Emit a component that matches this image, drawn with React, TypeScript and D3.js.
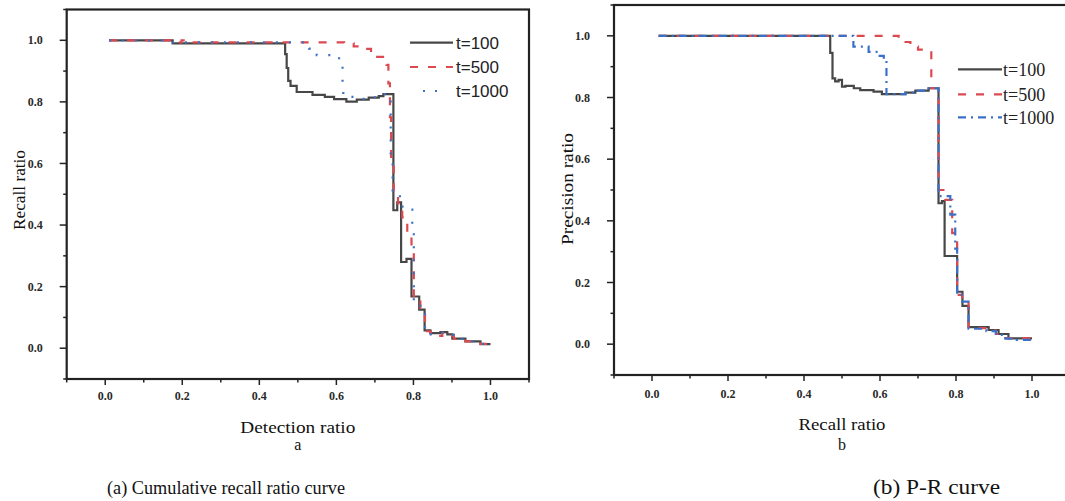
import React from "react";
import * as d3 from "d3";

// ---------- data ----------
const majorTicks = [0, 0.2, 0.4, 0.6, 0.8, 1.0];
const majorTickLabels = ["0.0", "0.2", "0.4", "0.6", "0.8", "1.0"];
const minorTicks = [-0.1, 0.1, 0.3, 0.5, 0.7, 0.9, 1.1];
const seriesNames = ["t=100", "t=500", "t=1000"];

// Panel (a): detection ratio (x) vs recall ratio (y), step curves
const recallT100: [number, number][] = [
  [0.01, 1.0], [0.175, 0.99], [0.467, 0.955], [0.471, 0.91], [0.475, 0.868], [0.481, 0.852],
  [0.497, 0.832], [0.538, 0.823], [0.57, 0.816], [0.594, 0.809], [0.626, 0.801], [0.653, 0.807],
  [0.684, 0.814], [0.71, 0.819], [0.722, 0.825], [0.748, 0.448], [0.758, 0.474], [0.768, 0.28],
  [0.782, 0.29], [0.795, 0.168], [0.815, 0.125], [0.829, 0.058], [0.844, 0.049], [0.87, 0.052],
  [0.888, 0.045], [0.901, 0.031], [0.935, 0.022], [0.974, 0.013], [1.0, 0.013],
];
const recallT500: [number, number][] = [
  [0.01, 1.0], [0.175, 0.993], [0.198, 1.0], [0.215, 0.993], [0.62, 0.99], [0.645, 0.98],
  [0.66, 0.972], [0.69, 0.955], [0.706, 0.946], [0.73, 0.92], [0.735, 0.86], [0.739, 0.75],
  [0.742, 0.6], [0.749, 0.5], [0.76, 0.47], [0.771, 0.425], [0.784, 0.375], [0.795, 0.33],
  [0.801, 0.151], [0.818, 0.13], [0.83, 0.055], [0.845, 0.045], [0.862, 0.04], [0.875, 0.05],
  [0.89, 0.04], [0.905, 0.03], [0.935, 0.022], [0.974, 0.014], [1.0, 0.012],
];
const recallT1000: [number, number][] = [
  [0.01, 1.0], [0.175, 0.993], [0.52, 0.99], [0.529, 0.973], [0.549, 0.952], [0.607, 0.928],
  [0.616, 0.863], [0.618, 0.823], [0.632, 0.816], [0.66, 0.81], [0.69, 0.815], [0.715, 0.82],
  [0.725, 0.825], [0.741, 0.6], [0.746, 0.5], [0.765, 0.46], [0.784, 0.45], [0.797, 0.4],
  [0.801, 0.15], [0.818, 0.13], [0.83, 0.058], [0.845, 0.045], [0.87, 0.05], [0.89, 0.043],
  [0.905, 0.03], [0.935, 0.022], [0.974, 0.014], [1.0, 0.012],
];

// Panel (b): recall ratio (x) vs precision ratio (y), step curves
const precisionT100: [number, number][] = [
  [0.0175, 1.0], [0.469, 0.945], [0.475, 0.862], [0.482, 0.852], [0.491, 0.857], [0.5, 0.835],
  [0.509, 0.838], [0.531, 0.83], [0.548, 0.824], [0.583, 0.819], [0.605, 0.811], [0.667, 0.816],
  [0.693, 0.822], [0.728, 0.83], [0.754, 0.457], [0.763, 0.464], [0.77, 0.286], [0.803, 0.17],
  [0.817, 0.124], [0.833, 0.055], [0.886, 0.046], [0.912, 0.033], [0.938, 0.019], [1.0, 0.019],
];
const precisionT500: [number, number][] = [
  [0.0175, 1.0], [0.649, 0.99], [0.66, 0.98], [0.68, 0.965], [0.7, 0.955], [0.735, 0.83],
  [0.754, 0.5], [0.772, 0.468], [0.79, 0.36], [0.803, 0.16], [0.816, 0.14], [0.833, 0.052],
  [0.886, 0.044], [0.905, 0.033], [0.93, 0.02], [1.0, 0.02],
];
const precisionT1000: [number, number][] = [
  [0.0175, 1.0], [0.53, 0.965], [0.57, 0.948], [0.595, 0.935], [0.61, 0.921], [0.617, 0.811],
  [0.667, 0.816], [0.693, 0.822], [0.728, 0.83], [0.754, 0.48], [0.785, 0.42], [0.798, 0.31],
  [0.803, 0.16], [0.816, 0.138], [0.833, 0.05], [0.88, 0.042], [0.905, 0.03], [0.93, 0.018],
  [0.96, 0.014], [1.0, 0.014],
];

// ---------- styles ----------
const COLORS = ["#474747", "#db4a50", "#3b70c8"];
const LINE_WIDTHS = [2.2, 2.2, 2.2];
const AXIS_COLOR = "#222";

type PanelProps = {
  x0: number; x1: number; yTop: number; yBottom: number;
  series: [number, number][][];
  dashes: (string | undefined)[];
  xTitle: string; xTitleLen: number; xTitleY: number;
  yTitle: string; yTitleLen: number; yTitleX: number; yTitleY: number;
  letter: string; letterY: number;
  legendX0: number; legendX1: number; legendTextX: number; legendYs: number[];
  legendFont: string; legendSize: number; legendDashes: (string | undefined)[];
  tickLabelY: number;
};

function Panel(p: PanelProps) {
  const x = d3.scaleLinear().domain([-0.1, 1.1]).range([p.x0, p.x1]);
  const y = d3.scaleLinear().domain([-0.1, 1.1]).range([p.yBottom, p.yTop]);
  const line = d3
    .line<[number, number]>()
    .x((d) => x(d[0]))
    .y((d) => y(d[1]))
    .curve(d3.curveStepAfter);
  const cx = (p.x0 + p.x1) / 2;
  return (
    <g>
      {p.series.map((s, i) => (
        <path
          key={i}
          d={line(s) || ""}
          fill="none"
          stroke={COLORS[i]}
          strokeWidth={LINE_WIDTHS[i]}
          strokeDasharray={p.dashes[i]}
        />
      ))}
      <rect
        x={p.x0}
        y={p.yTop}
        width={p.x1 - p.x0}
        height={p.yBottom - p.yTop}
        fill="none"
        stroke={AXIS_COLOR}
        strokeWidth={2.2}
      />
      {majorTicks.map((t, i) => (
        <g key={"xm" + i}>
          <line x1={x(t)} x2={x(t)} y1={p.yBottom} y2={p.yBottom + 6} stroke={AXIS_COLOR} strokeWidth={1.5} />
          <text
            x={x(t)}
            y={p.tickLabelY}
            textAnchor="middle"
            fontFamily="Liberation Serif"
            fontWeight="bold"
            fontSize={12}
            fill="#2a2a2a"
          >
            {majorTickLabels[i]}
          </text>
        </g>
      ))}
      {minorTicks.map((t, i) => (
        <line key={"xn" + i} x1={x(t)} x2={x(t)} y1={p.yBottom} y2={p.yBottom + 3.5} stroke={AXIS_COLOR} strokeWidth={1.5} />
      ))}
      {majorTicks.map((t, i) => (
        <g key={"ym" + i}>
          <line x1={p.x0 - 7} x2={p.x0} y1={y(t)} y2={y(t)} stroke={AXIS_COLOR} strokeWidth={1.5} />
          <text
            x={p.x0 - 24}
            y={y(t)}
            dy="0.35em"
            textAnchor="end"
            fontFamily="Liberation Serif"
            fontWeight="bold"
            fontSize={12}
            fill="#2a2a2a"
          >
            {majorTickLabels[i]}
          </text>
        </g>
      ))}
      {minorTicks.map((t, i) => (
        <line key={"yn" + i} x1={p.x0 - 3.5} x2={p.x0} y1={y(t)} y2={y(t)} stroke={AXIS_COLOR} strokeWidth={1.5} />
      ))}
      <text
        x={cx}
        y={p.xTitleY}
        textAnchor="middle"
        fontFamily="Liberation Serif"
        fontSize={17}
        fill="#111"
        textLength={p.xTitleLen}
        lengthAdjust="spacingAndGlyphs"
      >
        {p.xTitle}
      </text>
      <text x={cx} y={p.letterY} textAnchor="middle" fontFamily="Liberation Serif" fontSize={16} fill="#111">
        {p.letter}
      </text>
      <text
        transform={`translate(${p.yTitleX},${p.yTitleY}) rotate(-90)`}
        textAnchor="middle"
        fontFamily="Liberation Serif"
        fontSize={17}
        fill="#111"
        textLength={p.yTitleLen}
        lengthAdjust="spacingAndGlyphs"
      >
        {p.yTitle}
      </text>
      {seriesNames.map((n, i) => (
        <g key={"lg" + i}>
          <line
            x1={p.legendX0}
            x2={p.legendX1}
            y1={p.legendYs[i]}
            y2={p.legendYs[i]}
            stroke={COLORS[i]}
            strokeWidth={2.2}
            strokeDasharray={p.legendDashes[i]}
          />
          <text
            x={p.legendTextX}
            y={p.legendYs[i]}
            dy="0.36em"
            fontFamily={p.legendFont}
            fontSize={p.legendSize}
            fill="#222"
          >
            {n}
          </text>
        </g>
      ))}
    </g>
  );
}

export default function App() {
  return (
    <svg
      width={1065}
      height={501}
      style={{ position: "absolute", left: 0, top: 0, background: "#fff" }}
    >
      <rect x={0} y={0} width={1065} height={501} fill="#fff" />
      <Panel
        x0={66.7}
        x1={529}
        yTop={9.5}
        yBottom={379}
        series={[recallT100, recallT500, recallT1000]}
        dashes={[undefined, "8,10", "2,11"]}
        xTitle="Detection ratio"
        xTitleLen={115}
        xTitleY={433}
        yTitle="Recall ratio"
        yTitleLen={80}
        yTitleX={25}
        yTitleY={190}
        letter="a"
        letterY={450}
        legendX0={410}
        legendX1={453}
        legendTextX={456}
        legendYs={[42.7, 67, 91]}
        legendFont="Liberation Sans"
        legendSize={17}
        legendDashes={[undefined, "8,10", "0,13,2,10,2,30"]}
        tickLabelY={400}
      />
      <Panel
        x0={614}
        x1={1070}
        yTop={5}
        yBottom={375}
        series={[precisionT100, precisionT500, precisionT1000]}
        dashes={[undefined, "8,10", "8,5,2,5"]}
        xTitle="Recall ratio"
        xTitleLen={87}
        xTitleY={430}
        yTitle="Precision ratio"
        yTitleLen={112}
        yTitleX={573}
        yTitleY={189}
        letter="b"
        letterY={450}
        legendX0={958}
        legendX1={1002}
        legendTextX={1003}
        legendYs={[69.3, 94.3, 117.3]}
        legendFont="Liberation Serif"
        legendSize={18}
        legendDashes={[undefined, "8,10", "8,5,2,5"]}
        tickLabelY={397.5}
      />
      <text
        x={107}
        y={494}
        fontFamily="Liberation Serif"
        fontSize={18}
        fill="#111"
        textLength={238}
        lengthAdjust="spacingAndGlyphs"
      >
        (a) Cumulative recall ratio curve
      </text>
      <text
        x={873}
        y={494}
        fontFamily="Liberation Serif"
        fontSize={20}
        fill="#111"
        textLength={127}
        lengthAdjust="spacingAndGlyphs"
      >
        (b) P-R curve
      </text>
    </svg>
  );
}
